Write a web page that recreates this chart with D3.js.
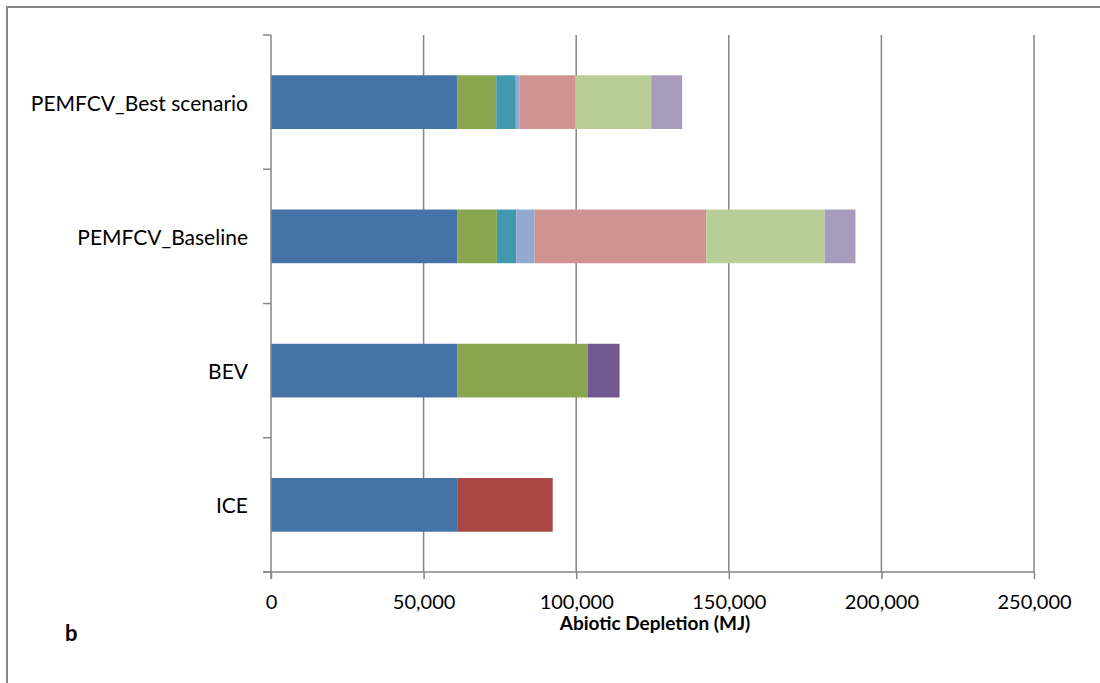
<!DOCTYPE html>
<html>
<head>
<meta charset="utf-8">
<script src="https://cdn.jsdelivr.net/npm/d3@7"></script>
<style>
  html, body { margin: 0; padding: 0; background: #fff; }
  svg { display: block; }
  text { font-family: Lato, "Open Sans", sans-serif; fill: #000; }
</style>
</head>
<body>
<script>
// ---- data ----
const categories = ["ICE", "BEV", "PEMFCV_Baseline", "PEMFCV_Best scenario"];
const seriesNames = ["S1", "S2", "S3", "S4", "S5", "S6", "S7", "S8", "S9"];
const seriesColors = ["#4572A7", "#AA4643", "#89A54E", "#71588F", "#4198AF", "#93A9CF", "#D19392", "#B9CD96", "#A99BBD"];
// values per category, in order: ICE, BEV, PEMFCV_Baseline, PEMFCV_Best scenario
const s1 = [61000, 61000, 61000, 61000];
const s2 = [31300, 0, 0, 0];
const s3 = [0, 42700, 13000, 12800];
const s4 = [0, 10500, 0, 0];
const s5 = [0, 0, 6400, 6400];
const s6 = [0, 0, 6000, 1300];
const s7 = [0, 0, 56200, 18200];
const s8 = [0, 0, 38800, 24900];
const s9 = [0, 0, 10100, 10100];
const seriesValues = [s1, s2, s3, s4, s5, s6, s7, s8, s9];
const xTicks = [0, 50000, 100000, 150000, 200000, 250000];
const xTitle = "Abiotic Depletion (MJ)";
const panelLabel = "b";

// ---- build table ----
const table = categories.map((c, i) => {
  const row = { category: c };
  seriesNames.forEach((s, k) => { row[s] = seriesValues[k][i]; });
  return row;
});
const stacked = d3.stack().keys(seriesNames)(table);

const W = 1100, H = 683;
const svg = d3.select("body").append("svg").attr("width", W).attr("height", H);

// outer border
svg.append("rect").attr("x", 7).attr("y", 7).attr("width", 1100).attr("height", 700)
  .attr("fill", "none").attr("stroke", "#868686").attr("stroke-width", 2);

const x = d3.scaleLinear().domain([0, 250000]).range([271, 1034]);
const y = d3.scaleBand().domain(categories.slice().reverse()).range([35, 572])
  .paddingInner(0.6).paddingOuter(0.3);

const gridColor = "#868686";

// gridlines
svg.append("g").selectAll("line").data(xTicks.filter(d => d > 0)).join("line")
  .attr("x1", d => x(d)).attr("x2", d => x(d)).attr("y1", 35).attr("y2", 572)
  .attr("stroke", gridColor).attr("stroke-width", 1.5);

// bars
svg.append("g").selectAll("g").data(stacked).join("g")
  .attr("fill", (d, i) => seriesColors[i])
  .selectAll("rect").data(d => d.filter(p => p[1] - p[0] > 0)).join("rect")
  .attr("x", d => x(d[0]))
  .attr("width", d => x(d[1]) - x(d[0]))
  .attr("y", d => y(d.data.category))
  .attr("height", y.bandwidth());

// x axis
const xAxis = d3.axisBottom(x).tickValues(xTicks).tickSize(7).tickPadding(16)
  .tickFormat(d3.format(","));
const gx = svg.append("g").attr("transform", "translate(0,572)").call(xAxis);
gx.select(".domain").remove();
gx.selectAll(".tick line").attr("stroke", gridColor).attr("stroke-width", 1.5);
gx.selectAll(".tick text").attr("font-size", 20).attr("font-family", "Lato, 'Open Sans', sans-serif")
  .attr("fill", "#000");
svg.append("line").attr("x1", 263).attr("x2", 1034).attr("y1", 572).attr("y2", 572)
  .attr("stroke", gridColor).attr("stroke-width", 1.5);

// y axis
svg.append("line").attr("x1", 271).attr("x2", 271).attr("y1", 35).attr("y2", 579)
  .attr("stroke", gridColor).attr("stroke-width", 1.5);
const step = y.step();
const boundaries = d3.range(categories.length + 1).map(i => 35 + i * step);
svg.append("g").selectAll("line").data(boundaries).join("line")
  .attr("x1", 263).attr("x2", 271).attr("y1", d => d).attr("y2", d => d)
  .attr("stroke", gridColor).attr("stroke-width", 1.5);
svg.append("g").selectAll("text").data(categories).join("text")
  .attr("x", 248).attr("y", d => y(d) + y.bandwidth() / 2)
  .attr("text-anchor", "end").attr("dominant-baseline", "central")
  .attr("font-size", 21).text(d => d);

// titles
svg.append("text").attr("x", 655).attr("y", 630).attr("text-anchor", "middle")
  .attr("font-size", 19).attr("font-weight", "bold").text(xTitle);
svg.append("text").attr("x", 65).attr("y", 641)
  .attr("font-size", 22).attr("font-weight", "bold").text(panelLabel);
</script>
</body>
</html>
